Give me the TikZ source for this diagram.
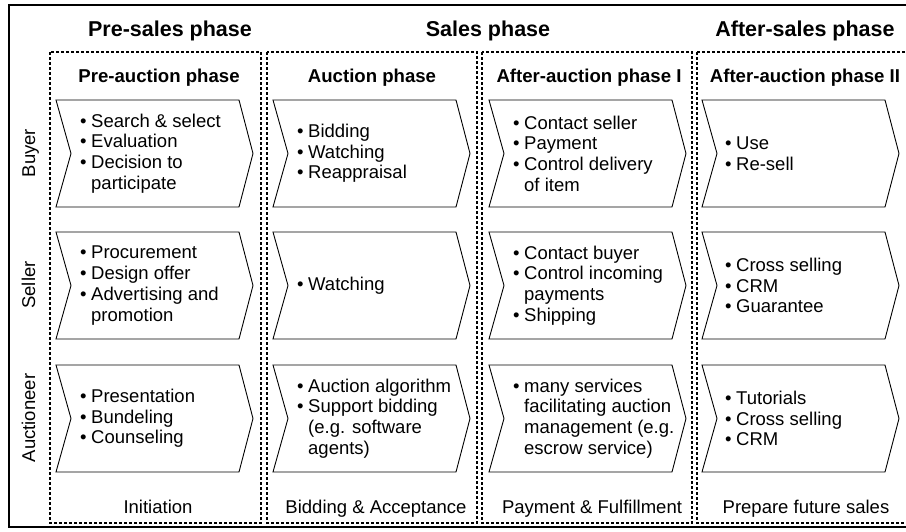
\documentclass[tikz,border=0pt]{standalone}
\usepackage{fontspec}
\setmainfont{Liberation Sans}
\newcommand\bl{\makebox[11pt][l]{\textbullet}}
\newcommand\ind{\hspace*{11pt}}
\begin{document}
\begin{tikzpicture}[x=1pt,y=-1pt,
	phase/.style={font=\fontsize{21.5}{24}\selectfont\bfseries,anchor=base},
	subphase/.style={font=\fontsize{18.6}{21}\selectfont\bfseries,anchor=base},
	lbl/.style={font=\fontsize{18.5}{20.7}\selectfont,anchor=base},
	txt/.style={font=\fontsize{18.5}{20.7}\selectfont,align=left,inner sep=0pt,anchor=west},
	col/.style={draw,dash pattern=on 3pt off 2pt,line width=1.4pt},
	chev/.style={draw,line width=0.9pt}]
	\useasboundingbox (0,0) rectangle (906,531);
	\clip (0,0) rectangle (906,531);
	\draw[line width=1.3pt] (940,5)--(9,5)--(9,527)--(940,527);
	\draw[col] (50,52) rectangle (261,523);
	\draw[col] (267,52) rectangle (477,523);
	\draw[col] (482,52) rectangle (692,523);
	\draw[col] (697,52) rectangle (940,523);
	\foreach \l in {56,273,489,702}
	\foreach \t in {100,232,365}
	\draw[chev] (\l,\t)--++(183,0)--++(14,53.5)--++(-14,53.5)--++(-183,0)--++(15,-53.5)--cycle;
	\node[phase] (pre) at (170,36) {Pre-sales phase};
	\node[phase] (sales) at (488,36) {Sales phase};
	\node[phase] (after) at (805,36) {After-sales phase};
	\node[subphase] (pa) at (159,82) {Pre-auction phase};
	\node[subphase] (ap) at (372,82) {Auction phase};
	\node[subphase] (aa1) at (589,82) {After-auction phase I};
	\node[subphase] (aa2) at (805,82) {After-auction phase II};
	\node[lbl,rotate=90] (buyer) at (35,153) {Buyer};
	\node[lbl,rotate=90] (seller) at (35,285) {Seller};
	\node[lbl,rotate=90] (auct) at (35,418) {Auctioneer};
	\node[txt] (b1) at (80,153.5) {\bl Search \& select\\\bl Evaluation\\\bl Decision to\\\ind participate};
	\node[txt] (b2) at (297,153.5) {\bl Bidding\\\bl Watching\\\bl Reappraisal};
	\node[txt] (b3) at (513,153.5) {\bl Contact seller\\\bl Payment\\\bl Control delivery\\\ind of item};
	\node[txt] (b4) at (725,153.5) {\bl Use\\\bl Re-sell};
	\node[txt] (s1) at (80,285.5) {\bl Procurement\\\bl Design offer\\\bl Advertising and\\\ind promotion};
	\node[txt] (s2) at (297,285.5) {\bl Watching};
	\node[txt] (s3) at (513,285.5) {\bl Contact buyer\\\bl Control incoming\\\ind payments\\\bl Shipping};
	\node[txt] (s4) at (725,285.5) {\bl Cross selling\\\bl CRM\\\bl Guarantee};
	\node[txt] (a1) at (80,418.5) {\bl Presentation\\\bl Bundeling\\\bl Counseling};
	\node[txt] (a2) at (297,418.5) {\bl Auction algorithm\\\bl Support bidding\\\ind (e.g. software\\\ind agents)};
	\node[txt] (a3) at (513,418.5) {\bl many services\\\ind facilitating auction\\\ind management (e.g.\\\ind escrow service)};
	\node[txt] (a4) at (725,418.5) {\bl Tutorials\\\bl Cross selling\\\bl CRM};
	\node[lbl] (ini) at (158,513) {Initiation};
	\node[lbl] (bid) at (376,513) {Bidding \& Acceptance};
	\node[lbl] (pay) at (592,513) {Payment \& Fulfillment};
	\node[lbl] (prep) at (806,513) {Prepare future sales};
\end{tikzpicture}
\end{document}
